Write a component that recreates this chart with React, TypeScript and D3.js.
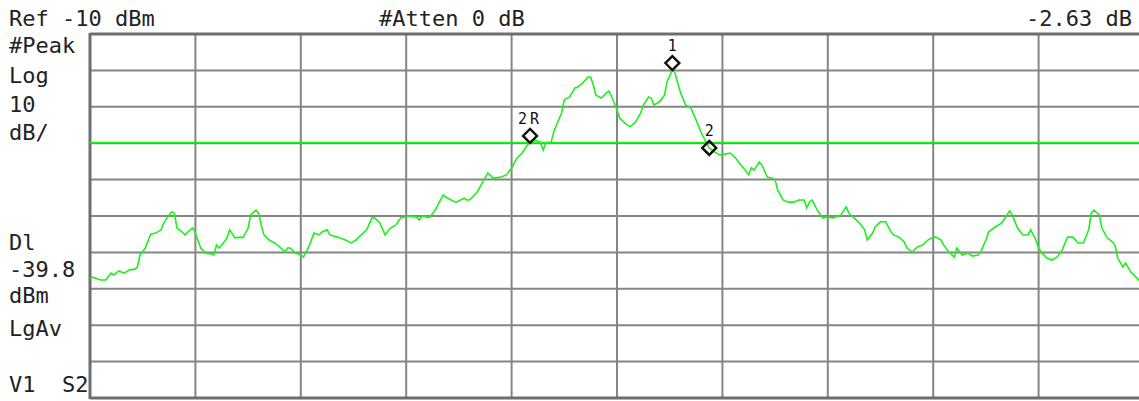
import React, { useRef, useEffect } from 'react';
import * as d3 from 'd3';

// trace: bin index (401 points across 10 divisions) and level in dBm
const traceBins = [
  0, 1, 4, 6, 8, 9, 11, 13, 15, 17, 18, 19, 21, 23, 25, 27, 28, 30, 31, 32,
  33, 35, 36, 38, 39, 40, 42, 44, 46, 47, 48, 49, 50, 52, 53, 55, 57, 58, 60, 61,
  63, 64, 65, 66, 68, 70, 72, 74, 75, 76, 78, 80, 81, 82, 83, 85, 87, 88, 90, 91,
  94, 97, 99, 101, 102, 105, 107, 108, 110, 112, 114, 116, 118, 120, 121, 124, 125, 126, 128, 129,
  131, 132, 134, 135, 137, 139, 142, 143, 144, 147, 149, 151, 153, 156, 158, 160, 162, 164, 166, 168,
  170, 171, 172, 173, 175, 176, 177, 179, 180, 182, 184, 185, 187, 189, 190, 191, 192, 194, 196, 197,
  198, 200, 201, 203, 205, 207, 209, 210, 212, 213, 214, 216, 218, 219, 221, 222, 224, 226, 228, 230,
  232, 234, 235, 237, 239, 241, 243, 245, 247, 248, 250, 251, 252, 254, 255, 257, 259, 260, 261, 263,
  265, 267, 269, 271, 272, 273, 274, 276, 278, 280, 282, 284, 285, 287, 288, 290, 292, 294, 295, 297,
  298, 300, 302, 304, 305, 307, 309, 310, 312, 314, 316, 318, 320, 321, 323, 324, 326, 328, 329, 331,
  333, 335, 337, 338, 340, 341, 343, 346, 348, 349, 350, 352, 354, 356, 357, 359, 360, 361, 363, 365,
  367, 369, 370, 371, 373, 375, 377, 379, 380, 381, 383, 384, 386, 388, 389, 390, 392, 393, 395, 397,
  398, 400,
];
const traceLevels = [
  -77.0, -76.8, -77.6, -77.6, -75.7, -76.2, -75.1, -75.7, -74.8, -74.6, -74.0, -70.7, -68.8, -65.0, -64.7, -63.8, -61.9, -59.7, -58.9, -59.2,
  -63.3, -64.4, -65.2, -63.8, -63.3, -64.7, -68.8, -70.2, -70.4, -70.7, -68.0, -68.8, -68.0, -66.0, -63.8, -66.0, -65.8, -66.0, -63.3, -59.7,
  -58.4, -59.2, -62.5, -65.2, -66.6, -67.4, -68.5, -69.9, -68.8, -68.8, -70.2, -70.7, -71.3, -69.9, -68.5, -64.7, -65.2, -64.4, -63.8, -65.2,
  -65.8, -66.6, -67.4, -66.6, -65.8, -63.8, -60.5, -60.5, -61.9, -65.2, -63.3, -62.5, -60.5, -60.3, -60.0, -60.3, -61.1, -60.0, -60.3, -60.3,
  -58.4, -57.0, -54.2, -54.8, -55.6, -56.2, -55.1, -55.6, -55.6, -53.4, -50.7, -48.2, -49.6, -49.3, -48.7, -46.8, -44.1, -42.7, -40.5, -39.1,
  -39.4, -39.9, -41.9, -39.9, -39.7, -36.9, -35.0, -31.7, -28.1, -27.3, -24.8, -24.6, -23.5, -21.8, -21.8, -24.0, -26.8, -27.6, -26.2, -25.7,
  -27.3, -30.9, -33.1, -34.5, -35.5, -34.2, -31.7, -29.5, -27.3, -27.6, -29.5, -28.7, -26.8, -23.2, -19.9, -20.7, -25.9, -29.5, -30.3, -33.6,
  -37.2, -39.9, -41.3, -42.4, -43.2, -43.0, -42.7, -44.1, -46.0, -46.8, -48.7, -46.8, -47.4, -45.2, -46.0, -49.3, -49.6, -50.1, -52.9, -55.6,
  -56.2, -56.2, -55.6, -55.6, -57.8, -56.2, -55.6, -58.4, -60.5, -60.3, -60.5, -60.0, -59.7, -57.5, -59.2, -60.5, -61.9, -63.8, -66.6, -64.7,
  -63.0, -61.6, -61.6, -64.4, -65.2, -65.8, -67.1, -68.8, -69.9, -68.5, -68.0, -66.6, -65.8, -65.8, -66.6, -68.0, -69.9, -71.3, -68.8, -70.7,
  -70.2, -71.0, -70.7, -69.9, -66.6, -64.4, -63.3, -61.9, -59.7, -58.6, -59.7, -63.3, -65.2, -65.2, -63.8, -66.6, -68.8, -69.9, -71.5, -72.1,
  -71.3, -69.3, -67.4, -65.8, -65.8, -67.4, -67.4, -63.8, -59.2, -58.4, -59.7, -63.3, -66.0, -67.1, -68.0, -71.5, -74.0, -72.9, -75.4, -76.8,
  -77.6, -78.4,
];

const markerNames = ['1', '2R', '2'];
const markerBins = [221, 167, 235];
const markerLevels = [-18.0, -38.0, -41.3];

const refLevel = -10;
const dbPerDiv = 10;
const displayLine = -39.8;

const topTexts = ['Ref -10 dBm', '#Atten 0 dB', '-2.63 dB'];
const sideTexts = ['#Peak', 'Log', '10', 'dB/', 'Dl', '-39.8', 'dBm', 'LgAv', 'V1  S2'];
const sideBaselines = [53, 83, 112, 140, 250, 277, 303, 336, 392];

const W = 1139;
const H = 401;
const FONT = '"DejaVu Sans Mono", "Liberation Mono", monospace';
const GREEN = '#1ef01e';

export default function App() {
  const ref = useRef<SVGSVGElement | null>(null);

  useEffect(() => {
    if (!ref.current) return;
    const svg = d3.select(ref.current);
    svg.selectAll('*').remove();

    const x = d3.scaleLinear().domain([0, 400]).range([90, 1144]);
    const y = d3.scaleLinear().domain([refLevel - 10 * dbPerDiv, refLevel]).range([398, 34]);

    svg.append('rect').attr('width', W).attr('height', H).attr('fill', '#fff');

    // grid
    const grid = svg.append('g').attr('stroke', '#858585').attr('stroke-width', 2);
    d3.range(0, 401, 40).forEach(b => {
      grid.append('line')
        .attr('x1', x(b)).attr('x2', x(b))
        .attr('y1', y(refLevel)).attr('y2', y(refLevel - 10 * dbPerDiv));
    });
    d3.range(0, 11).forEach(i => {
      const v = refLevel - i * dbPerDiv;
      grid.append('line')
        .attr('x1', x(0)).attr('x2', x(400))
        .attr('y1', y(v)).attr('y2', y(v));
    });
    // heavier frame
    const frame = svg.append('g').attr('stroke', '#6e6e6e').attr('stroke-width', 3);
    frame.append('line').attr('x1', x(0)).attr('x2', x(400)).attr('y1', y(refLevel)).attr('y2', y(refLevel));
    frame.append('line').attr('x1', x(0)).attr('x2', x(400))
      .attr('y1', y(refLevel - 10 * dbPerDiv)).attr('y2', y(refLevel - 10 * dbPerDiv));
    frame.append('line').attr('x1', x(0)).attr('x2', x(0))
      .attr('y1', y(refLevel) - 1).attr('y2', y(refLevel - 10 * dbPerDiv) + 1);

    // display line
    svg.append('line')
      .attr('x1', x(0)).attr('x2', x(400))
      .attr('y1', y(displayLine)).attr('y2', y(displayLine))
      .attr('stroke', GREEN).attr('stroke-width', 1.6);

    // trace
    const pts = traceBins.map((b, i) => [b, traceLevels[i]] as [number, number]);
    const line = d3.line<[number, number]>().x(d => x(d[0])).y(d => y(d[1]));
    svg.append('path')
      .attr('d', line(pts) as string)
      .attr('fill', 'none')
      .attr('stroke', GREEN)
      .attr('stroke-width', 1.6)
      .attr('stroke-linejoin', 'miter');

    // markers
    markerNames.forEach((name, i) => {
      const cx = x(markerBins[i]);
      const cy = y(markerLevels[i]);
      svg.append('path')
        .attr('d', `M${cx},${cy - 7}L${cx + 7},${cy}L${cx},${cy + 7}L${cx - 7},${cy}Z`)
        .attr('fill', 'none')
        .attr('stroke', '#111')
        .attr('stroke-width', 2.4);
      svg.append('text')
        .attr('x', cx)
        .attr('y', cy - 12)
        .attr('text-anchor', 'middle')
        .attr('font-family', FONT)
        .attr('font-size', 15)
        .attr('letter-spacing', name.length > 1 ? 3 : 0)
        .attr('fill', '#111')
        .text(name);
    });

    // annotation text
    const txt = svg.append('g')
      .attr('font-family', FONT)
      .attr('font-size', 22)
      .attr('fill', '#222');
    txt.append('text').attr('x', 9).attr('y', 26).text(topTexts[0]);
    txt.append('text').attr('x', 379).attr('y', 26).text(topTexts[1]);
    txt.append('text').attr('x', 1132).attr('y', 26).attr('text-anchor', 'end').text(topTexts[2]);
    sideTexts.forEach((t, i) => {
      txt.append('text').attr('x', 9).attr('y', sideBaselines[i]).attr('xml:space', 'preserve')
        .style('white-space', 'pre').text(t);
    });
  }, []);

  return (
    <svg
      ref={ref}
      width={W}
      height={H}
      style={{ position: 'absolute', left: 0, top: 0, display: 'block' }}
    />
  );
}
